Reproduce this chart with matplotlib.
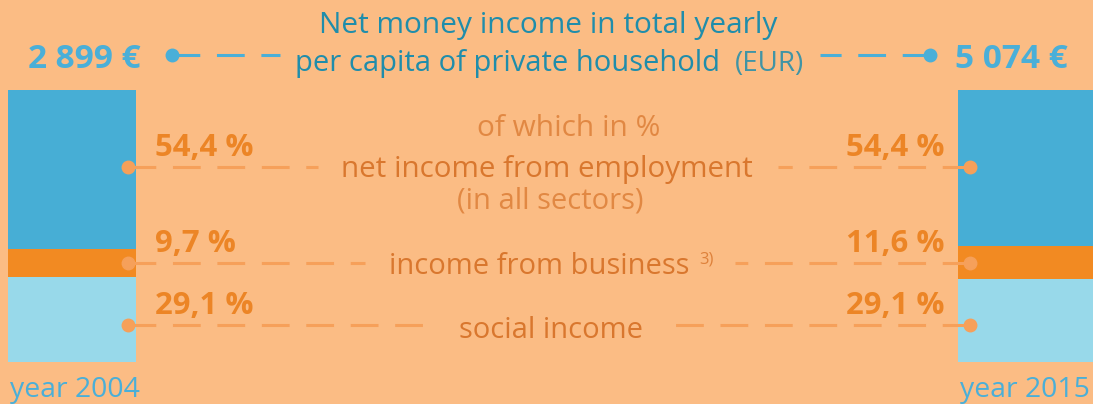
import numpy as np
import matplotlib.pyplot as plt

plt.rcParams['font.family'] = ['Open Sans', 'DejaVu Sans']
plt.rcParams['lines.scale_dashes'] = False

# data
years = ['year 2004', 'year 2015']
totals = ['2 899 €', '5 074 €']
categories = ['net income from employment', 'income from business', 'social income']
shares_2004 = [54.4, 9.7, 29.1]
shares_2015 = [54.4, 11.6, 29.1]
share_labels_2004 = ['54,4 %', '9,7 %', '29,1 %']
share_labels_2015 = ['54,4 %', '11,6 %', '29,1 %']

bg = '#fbbc84'
bar_colors = ['#47aed5', '#f28a22', '#98d9ea']
teal = '#1f8dab'
blue = '#4aafd8'
dark_or = '#d9772e'
pct_or = '#ec8526'
dash_or = '#f6a05a'

fig = plt.figure(figsize=(10.93, 4.04), dpi=100, facecolor=bg)
ax = fig.add_axes([0, 0, 1, 1])
ax.set_facecolor(bg)
ax.set_xlim(0, 1093)
ax.set_ylim(404, 0)
ax.axis('off')

# stacked bars, scaled to the same overall height
bar_top, bar_h = 90, 272
for x0, w, shares in [(8, 128, shares_2004), (958, 140, shares_2015)]:
    s = np.array(shares)
    h = s / s.sum() * bar_h
    bottoms = bar_top + np.concatenate([[0], np.cumsum(h)[:-1]])
    ax.bar(x0, h, width=w, bottom=bottoms, align='edge', color=bar_colors, zorder=1)

dash = (0, (20, 12))

def dotted(x0, x1, y, color, dotx):
    ax.plot([x0, x1], [y, y], color=color, lw=2.2, linestyle=dash, solid_capstyle='butt', zorder=2)
    ax.plot([dotx], [y], 'o', color=color, ms=9, zorder=3)

# title and totals
ax.text(548, 25, 'Net money income in total yearly', ha='center', va='center', fontsize=21.5, color=teal)
ax.text(295, 63, 'per capita of private household', ha='left', va='center', fontsize=21, color=teal)
ax.text(735, 64, '(EUR)', ha='left', va='center', fontsize=20, color=teal, alpha=0.85)
ax.text(28, 59, totals[0], ha='left', va='center', fontsize=24, fontweight='bold', color=blue)
ax.text(1068, 59, totals[1], ha='right', va='center', fontsize=24, fontweight='bold', color=blue)
dotted(172, 280, 55, blue, 172)
dotted(930, 820, 55, blue, 930)

ax.text(569, 128, 'of which in %', ha='center', va='center', fontsize=21.5, color=dark_or, alpha=0.75)
ax.text(547, 170, categories[0], ha='center', va='center', fontsize=21.3, color=dark_or)
ax.text(550, 201, '(in all sectors)', ha='center', va='center', fontsize=21, color=dark_or, alpha=0.75)
ax.text(539, 266, categories[1], ha='center', va='center', fontsize=21, color=dark_or)
ax.text(699, 259, '3)', ha='left', va='center', fontsize=12, color=dark_or, alpha=0.85)
ax.text(551, 330, categories[2], ha='center', va='center', fontsize=21, color=dark_or)

rows = [(167, 318, 778), (263, 365, 735), (325, 428, 672)]
for i, (y, xl, xr) in enumerate(rows):
    dotted(128, xl, y, dash_or, 128)
    dotted(970, xr, y, dash_or, 970)
    ax.text(155, y - 19, share_labels_2004[i], ha='left', va='center', fontsize=22.4, fontweight='bold', color=pct_or)
    ax.text(945, y - 19, share_labels_2015[i], ha='right', va='center', fontsize=22.4, fontweight='bold', color=pct_or)

ax.text(10, 390, years[0], ha='left', va='center', fontsize=20.4, color=blue)
ax.text(1090, 390, years[1], ha='right', va='center', fontsize=20.4, color=blue)

fig.savefig('out.png', dpi=100, facecolor=bg)
